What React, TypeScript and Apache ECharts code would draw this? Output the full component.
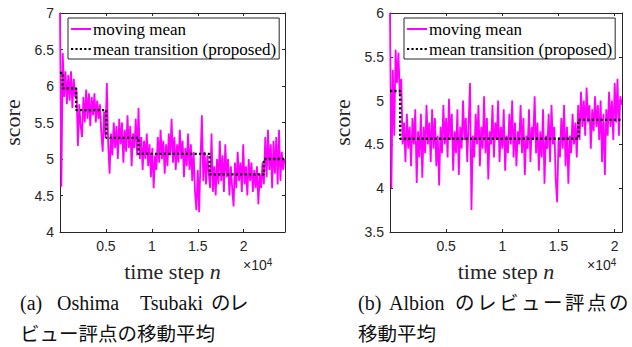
import React, { useEffect, useRef } from 'react';
import * as echarts from 'echarts';

// ---------- data ----------
const seriesNames = ['moving mean', 'mean transition (proposed)'];

// (a) Oshima Tsubaki: moving mean of review score, sampled every 150 steps
const leftStepN = 150;
const leftScores = [
  7.0, 4.62, 6.45, 5.85, 6.2, 5.75, 6.15, 5.8, 6.2, 5.7, 6.1, 5.85,
  5.95, 5.18, 5.75, 5.45, 5.3, 5.85, 5.5, 5.95, 5.55, 5.9, 5.45, 5.85, 5.6, 5.9, 5.5, 5.8, 5.55, 5.75, 5.35, 5.1, 5.65, 5.3, 6.04, 5.2,
  4.8, 5.35, 5.05, 5.5, 5.15, 5.45, 5.0, 5.55, 5.2, 5.5, 4.95, 5.4, 5.1, 5.6, 5.15, 5.45, 4.9, 5.35, 5.15, 5.55, 5.05, 5.7,
  5.0, 5.3, 4.85, 5.25, 5.0, 5.35, 4.9, 5.2, 4.75, 5.15, 4.6, 5.05, 4.85, 5.3, 4.95, 5.4, 5.0, 5.25, 4.8, 5.2, 4.9, 5.35, 5.05, 5.55,
  4.95, 5.3, 4.85, 5.2, 4.95, 5.4, 5.0, 5.25, 4.75, 5.15, 4.9, 5.35, 4.85, 5.2,
  4.7, 5.1, 4.55, 4.3, 4.85, 4.27, 5.0, 5.6, 4.7, 5.1, 4.65, 5.05, 4.8,
  4.6, 5.35, 4.55, 4.9, 4.5, 5.0, 4.65, 5.25, 4.7, 5.05, 4.55, 5.2, 4.75, 5.0, 4.5, 4.9, 4.6, 4.35, 4.95, 4.6,
  5.1, 4.7, 4.95, 4.55, 5.2, 4.65, 4.9, 4.5, 5.0, 4.7, 4.95, 4.55, 4.85, 4.6, 4.9, 4.38, 4.8, 4.6, 4.95, 4.65,
  5.3, 4.75, 5.4, 4.85, 5.2, 4.6, 5.25, 4.8, 5.3, 4.65, 5.4, 4.7, 5.1, 4.85, 5.0,
];
const leftMeanN = [0, 300, 1750, 5030, 8550, 16300, 22200, 24500];
const leftMeanV = [6.18, 5.97, 5.67, 5.29, 5.07, 4.79, 5.0, 5.0];

// (b) Albion: moving mean of review score, sampled every 125 steps
const rightStepN = 125;
const rightScores = [
  6.0, 4.0, 5.35, 4.6, 5.58, 5.2, 5.55, 5.05, 5.25, 4.5,
  4.75, 4.3, 4.85, 4.45, 4.7, 4.25, 4.8, 4.5, 4.9, 4.06, 4.65, 4.35, 4.85, 4.12, 4.7, 4.4, 4.95, 4.5, 4.75, 4.3,
  4.9, 4.45, 4.8, 4.25, 4.6, 4.03, 4.7, 4.4, 4.95, 4.5, 4.8, 4.35, 5.02, 4.55, 4.85, 4.2, 4.65, 4.4, 4.9, 4.15,
  4.7, 4.45, 5.0, 4.55, 4.8, 4.3, 4.75, 5.2, 3.75, 4.6, 4.35, 4.85, 4.5, 4.95, 4.25, 4.7, 4.45, 5.05, 4.4, 4.8,
  4.1, 4.65, 4.5, 4.95, 4.35, 4.75, 4.55, 5.0, 4.3, 4.7, 4.45, 4.9, 4.2, 4.6, 4.4, 4.85, 4.5, 5.0, 4.35, 4.75,
  4.25, 4.65, 4.5, 4.95, 4.4, 4.8, 4.15, 4.6, 4.45, 4.9, 4.3, 4.7, 4.55, 5.05, 4.4, 4.75, 4.2, 4.65, 4.35, 4.9,
  4.05, 4.6, 4.45, 4.85, 4.3, 4.95, 4.5, 4.7, 4.1, 3.84, 4.55, 4.35, 4.8, 4.45, 4.95, 4.25, 4.7, 4.05, 4.6, 4.4,
  4.85, 4.5, 4.75, 4.35,
  4.95, 4.55, 5.1, 4.7, 5.0, 4.6, 5.15, 4.75, 4.95, 4.45, 4.9, 4.65, 5.05, 4.7, 4.95, 4.55, 5.0, 4.3, 4.85, 4.15,
  4.9, 4.6, 5.1, 4.7, 5.0, 4.55, 5.2, 4.75, 5.25, 4.6, 5.05, 4.95,
];
const rightMeanN = [0, 900, 16770, 20650];
const rightMeanV = [5.11, 4.565, 4.78, 4.78];

const xTickStep = 5000;
const leftXMax = 24500;
const rightXMax = 20650;
const leftYRange = [4, 7];
const rightYRange = [3.5, 6];
const xAxisTitle = 'time step {i|n}';
const yAxisTitle = 'score';
const exponentLabel = '×10{s|4}';

const captionA1 = ['(a)', 'Oshima', 'Tsubaki', 'の', 'レ'];
const captionA2 = 'ビュー評点の移動平均';
const captionB1 = ['(b)', 'Albion', 'の', 'レ', 'ビ', 'ュ', 'ー', '評', '点', 'の'];
const captionB2 = '移動平均';

// ---------- styles ----------
const AX = '#262626';
const MAGENTA = '#ff00ff';
const SERIF = '"Liberation Serif", "Noto Sans CJK JP", serif';
const SANS = '"Liberation Sans", Arial, sans-serif';

function axesFor(grid: number, xMax: number, yR: number[]) {
  const common = {
    gridIndex: grid,
    axisLine: { show: true, onZero: false, lineStyle: { color: AX, width: 1 } },
    axisTick: { show: true, inside: true, length: 3, lineStyle: { color: AX, width: 1 } },
    splitLine: { show: false },
  };
  const xs = [
    {
      ...common,
      type: 'value', position: 'bottom', min: 0, max: xMax, interval: xTickStep,
      axisLabel: {
        show: true, margin: 7, color: AX, fontFamily: SANS, fontSize: 14,
        showMaxLabel: false,
        formatter: (v: number) => (v === 0 || v % xTickStep !== 0 ? '' : String(v / 10000)),
      },
      name: xAxisTitle, nameLocation: 'middle', nameGap: 28,
      nameTextStyle: {
        fontFamily: SERIF, fontSize: 22, color: AX,
        rich: { i: { fontFamily: SERIF, fontStyle: 'italic', fontSize: 22, color: AX } },
      },
    },
    {
      ...common,
      type: 'value', position: 'top', min: 0, max: xMax, interval: xTickStep,
      axisLabel: { show: false },
    },
  ];
  const ys = [
    {
      ...common,
      type: 'value', position: 'left', min: yR[0], max: yR[1], interval: 0.5,
      axisLabel: { show: true, margin: 6, color: AX, fontFamily: SANS, fontSize: 14, formatter: (v: number) => String(v) },
      name: yAxisTitle, nameLocation: 'middle', nameGap: 37, nameRotate: 90,
      nameTextStyle: { fontFamily: SERIF, fontSize: 22, color: AX },
    },
    {
      ...common,
      type: 'value', position: 'right', min: yR[0], max: yR[1], interval: 0.5,
      axisLabel: { show: false },
    },
  ];
  return { xs, ys };
}

function seriesFor(axisBase: number, scores: number[], step: number, meanN: number[], meanV: number[]) {
  return [
    {
      name: seriesNames[0], type: 'line', xAxisIndex: axisBase, yAxisIndex: axisBase,
      data: scores.map((v, i) => [i * step, v]),
      symbol: 'none', lineStyle: { color: MAGENTA, width: 1.8 }, itemStyle: { color: MAGENTA },
      clip: true, z: 2,
    },
    {
      name: seriesNames[1], type: 'line', xAxisIndex: axisBase, yAxisIndex: axisBase,
      data: meanN.map((n, i) => [n, meanV[i]]), step: 'end',
      symbol: 'none', lineStyle: { color: '#000', width: 2.4, type: [2.2, 2.2] }, itemStyle: { color: '#000' },
      z: 3,
    },
  ];
}

function legendFor(left: number) {
  return {
    data: seriesNames, orient: 'vertical', left, top: 18, selectedMode: false,
    itemWidth: 20, itemHeight: 12, itemGap: 2,
    padding: [2, 3, 1, 2],
    backgroundColor: '#fff', borderColor: AX, borderWidth: 1, borderRadius: 0,
    itemStyle: { opacity: 0 },
    textStyle: { fontFamily: SERIF, fontSize: 17, color: '#000', lineHeight: 18, padding: [0, 0, 0, -3] },
  };
}

function textEl(x: number, y: number, text: string, size = 20) {
  return {
    type: 'text', x, y,
    style: { text, fontFamily: SERIF, fontSize: size, fill: '#111', textVerticalAlign: 'middle' },
  };
}

export default function App() {
  const ref = useRef<HTMLDivElement>(null);
  useEffect(() => {
    if (!ref.current) return;
    const chart = echarts.init(ref.current, null, { renderer: 'svg' });
    const a = axesFor(0, leftXMax, leftYRange);
    const b = axesFor(1, rightXMax, rightYRange);

    const capA1X = [20, 57, 140, 211, 229];
    const capB1X = [358, 389, 455, 477, 499, 521, 543, 565, 587, 609];
    const cjk = 19.5;

    const exponentStyle = {
      fontFamily: SANS, fontSize: 14, fill: AX,
      rich: { s: { fontFamily: SANS, fontSize: 10, verticalAlign: 'top', padding: [0, 0, 6, 0] } },
    };

    chart.setOption({
      animation: false,
      backgroundColor: '#fff',
      grid: [
        { left: 54, top: 13, width: 231, height: 219 },
        { left: 390, top: 13, width: 232, height: 219 },
      ],
      xAxis: [...a.xs, ...b.xs],
      yAxis: [...a.ys, ...b.ys],
      legend: [legendFor(68), legendFor(404)],
      series: [
        ...seriesFor(0, leftScores, leftStepN, leftMeanN, leftMeanV),
        ...seriesFor(2, rightScores, rightStepN, rightMeanN, rightMeanV),
      ],
      graphic: [
        { type: 'text', x: 243, y: 257, style: { text: exponentLabel, ...exponentStyle } },
        { type: 'text', x: 587, y: 257, style: { text: exponentLabel, ...exponentStyle } },
        ...captionA1.map((t, i) => textEl(capA1X[i], 303, t, i >= 3 ? cjk : 20)),
        textEl(20, 334, captionA2, cjk),
        ...captionB1.map((t, i) => textEl(capB1X[i], 303, t, i >= 2 ? cjk : 20)),
        textEl(358, 334, captionB2, cjk),
      ],
    });
    return () => chart.dispose();
  }, []);
  return (
    <div
      ref={ref}
      style={{ position: 'absolute', left: 0, top: 0, width: 632, height: 347, background: '#fff' }}
    />
  );
}
